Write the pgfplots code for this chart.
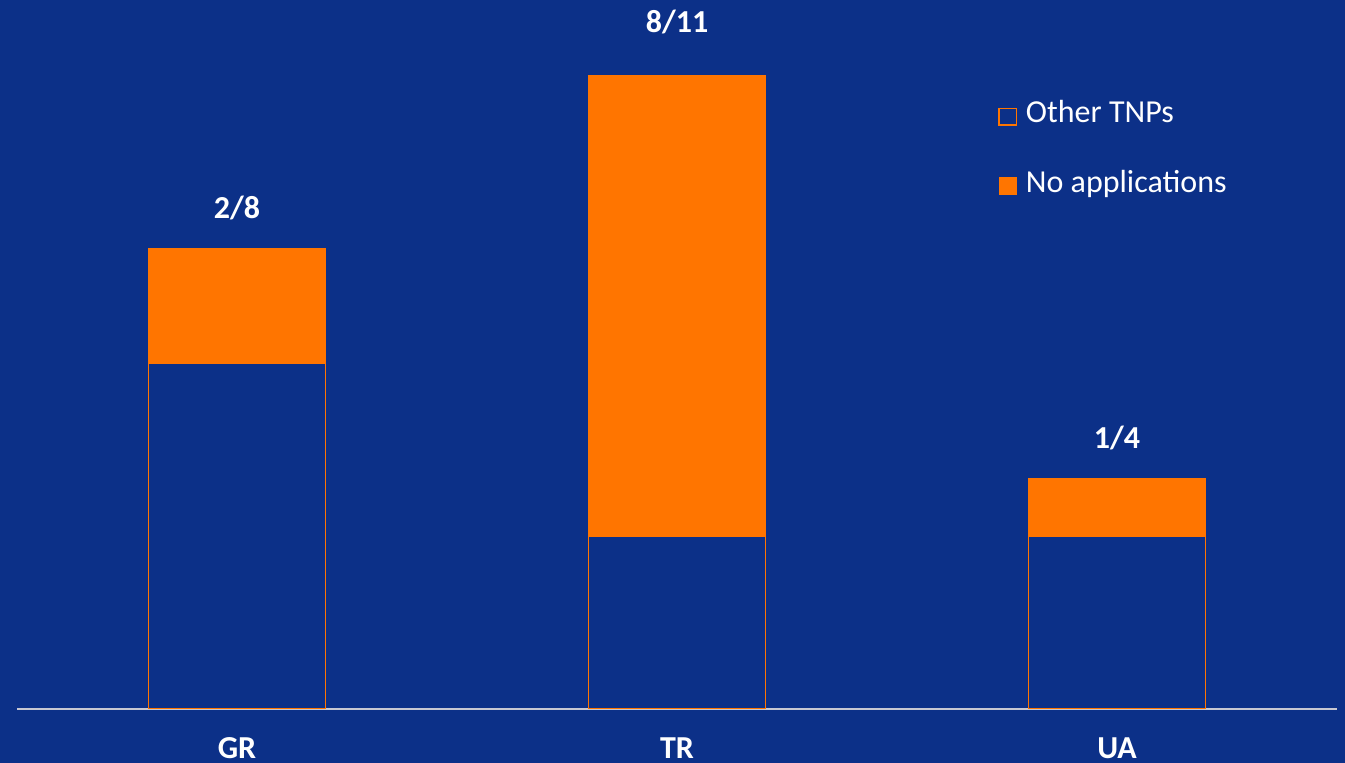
\documentclass[border=0pt]{standalone}
\usepackage{fontspec}
\setmainfont{Carlito}
\usepackage{pgfplots}
\pgfplotsset{compat=1.18}
\definecolor{bg}{RGB}{12,48,136}
\definecolor{org}{RGB}{255,117,0}
\definecolor{axl}{RGB}{200,200,210}
\pgfplotsset{common/.style={
  at={(12.75pt,40.5pt)}, anchor=south west,
  x=330pt, y=43.2pt, xmin=-0.5, xmax=2.5, ymin=0, ymax=12}}
\begin{document}
\begin{tikzpicture}
\fill[bg] (0,0) rectangle (1008.75pt,572.25pt);
\useasboundingbox (0,0) rectangle (1008.75pt,572.25pt);
\begin{axis}[common,
  ybar stacked, bar width=132.75pt,
  axis y line=none, axis x line*=bottom,
  x axis line style={draw=axl, line width=1.1pt},
  xtick={0,1,2}, xticklabels={GR,TR,UA}, major tick length=0pt,
  xticklabel style={font=\fontsize{24}{28}\selectfont\bfseries, text=white, anchor=base, yshift=-37.5pt, text depth=0pt, inner sep=0pt, outer sep=0pt},
  legend style={at={(0.7434,0.8806)}, anchor=north west, draw=none, fill=none,
    inner sep=0pt, outer sep=0pt, font=\fontsize{24}{28}\selectfont, text=white,
    nodes={inner sep=0pt, text height=17pt, text depth=5pt},
    row sep=30pt, column sep=6.75pt},
  legend cell align=left,
  legend image code/.code={\draw[#1] (0pt,-7.5pt) rectangle (13pt,5pt);},
]
\addplot[draw=org, fill=bg, line width=1pt] coordinates {(0,6) (1,3) (2,3)};
\addplot[draw=org, fill=org, line width=0.5pt] coordinates {(0,2) (1,8) (2,1)};
\legend{Other TNPs, No applications}
\end{axis}
\begin{axis}[common, hide axis,
  every node near coord/.style={font=\fontsize{24}{28}\selectfont\bfseries, text=white, anchor=base}]
\addplot[draw=none, mark=none, nodes near coords, point meta=explicit symbolic,
  every node near coord/.append style={yshift=22.5pt}]
  coordinates {(0,8)[2/8] (2,4)[1/4]};
\addplot[draw=none, mark=none, nodes near coords, point meta=explicit symbolic,
  every node near coord/.append style={yshift=32.25pt}]
  coordinates {(1,11)[8/11]};
\end{axis}
\end{tikzpicture}
\end{document}
